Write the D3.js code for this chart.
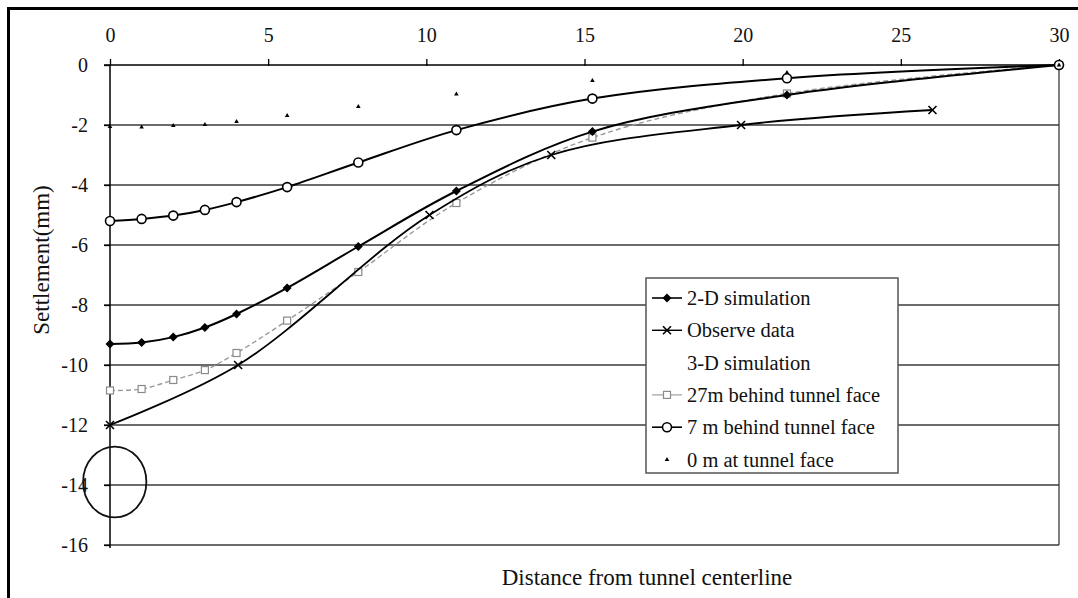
<!DOCTYPE html>
<html>
<head>
<meta charset="utf-8">
<script src="https://cdn.jsdelivr.net/npm/d3@7"></script>
<style>
  html, body { margin: 0; padding: 0; background: #fff; }
  svg { display: block; }
  text { font-family: "Liberation Serif", "Times New Roman", serif; fill: #111; }
</style>
</head>
<body>
<svg id="chart" width="1078" height="598"></svg>
<script>
// Surface settlement across the tunnel section (mm) vs distance from centreline (m)
const xTicks = [0, 5, 10, 15, 20, 25, 30];
const yTicks = [0, -2, -4, -6, -8, -10, -12, -14, -16];

const sim2dX = [0, 1, 2, 3, 4, 5.6, 7.85, 10.95, 15.25, 21.4, 30];
const sim2dY = [-9.3, -9.25, -9.07, -8.75, -8.3, -7.43, -6.05, -4.2, -2.22, -1.0, 0];

const observedX = [0, 4.05, 10.1, 13.95, 19.95, 26.0];
const observedY = [-12.0, -10.0, -5.0, -3.0, -2.0, -1.5];

const behind27X = [0, 1, 2, 3, 4, 5.6, 7.85, 10.95, 15.25, 21.4, 30];
const behind27Y = [-10.85, -10.8, -10.5, -10.17, -9.6, -8.52, -6.9, -4.6, -2.42, -0.95, 0];

const behind7X = [0, 1, 2, 3, 4, 5.6, 7.85, 10.95, 15.25, 21.4, 30];
const behind7Y = [-5.2, -5.13, -5.02, -4.83, -4.57, -4.07, -3.25, -2.17, -1.12, -0.44, 0];

const faceX = [0, 1, 2, 3, 4, 5.6, 7.85, 10.95, 15.25, 21.4, 30];
const faceY = [-2.05, -2.07, -2.02, -1.98, -1.88, -1.68, -1.38, -0.97, -0.52, -0.25, 0];

const legendLabels = ["2-D simulation", "Observe data", "3-D simulation",
                      "27m behind tunnel face", "7 m behind tunnel face", "0 m at tunnel face"];

// tunnel outline drawn beneath the centreline (centre and half-axes in chart units)
const tunnelCentre = [0.15, -13.9];
const tunnelHalfAxes = [1.0, 1.18];

const svg = d3.select("#chart");

const x = d3.scaleLinear().domain([0, 30]).range([110, 1059]);
const y = d3.scaleLinear().domain([0, -16]).range([65, 545]);

// outer frame (top and left edges)
svg.append("line").attr("x1", 7).attr("x2", 1078).attr("y1", 8.5).attr("y2", 8.5)
  .attr("stroke", "#000").attr("stroke-width", 3);
svg.append("line").attr("x1", 8.5).attr("x2", 8.5).attr("y1", 7).attr("y2", 598)
  .attr("stroke", "#000").attr("stroke-width", 3);

// horizontal gridlines
svg.append("g").selectAll("line").data(yTicks.filter(d => d !== 0)).join("line")
  .attr("x1", x(0) - 6).attr("x2", x(30))
  .attr("y1", d => y(d)).attr("y2", d => y(d))
  .attr("stroke", "#3a3a3a").attr("stroke-width", 1.3);

// right edge of plot area
svg.append("line").attr("x1", x(30)).attr("x2", x(30)).attr("y1", y(0)).attr("y2", y(-16))
  .attr("stroke", "#3a3a3a").attr("stroke-width", 1.3);

// x axis along the top (zero settlement line)
const xAxis = svg.append("g").attr("transform", `translate(0,${y(0)})`)
  .call(d3.axisTop(x).tickValues(xTicks).tickSize(6).tickPadding(17).tickFormat(d => String(d)));
xAxis.select(".domain").attr("stroke", "#000").attr("stroke-width", 1.5)
  .attr("d", `M${x(0) - 6},0H${x(30)}`);
xAxis.selectAll(".tick line").attr("stroke", "#000").attr("stroke-width", 1.3)
  .attr("y1", 1);
xAxis.selectAll(".tick text").attr("font-size", 20)
  .attr("font-family", "Liberation Serif, serif").attr("fill", "#111");

// y axis
const yAxis = svg.append("g").attr("transform", `translate(${x(0)},0)`)
  .call(d3.axisLeft(y).tickValues(yTicks).tickSize(6).tickPadding(16).tickFormat(d => String(d)));
yAxis.select(".domain").attr("stroke", "#000").attr("stroke-width", 1.5)
  .attr("d", `M0,${y(0)}V${y(-16) + 3}`);
yAxis.selectAll(".tick line").attr("stroke", "#000").attr("stroke-width", 1.3);
yAxis.selectAll(".tick text").attr("font-size", 20)
  .attr("font-family", "Liberation Serif, serif").attr("fill", "#111");

// tunnel
svg.append("ellipse")
  .attr("cx", x(tunnelCentre[0])).attr("cy", y(tunnelCentre[1]))
  .attr("rx", x(tunnelHalfAxes[0]) - x(0)).attr("ry", y(-tunnelHalfAxes[1]) - y(0))
  .attr("fill", "none").attr("stroke", "#111").attr("stroke-width", 1.8);

const zip = (xs, ys) => xs.map((v, i) => [v, ys[i]]);
const line = d3.line().x(d => x(d[0])).y(d => y(d[1])).curve(d3.curveCatmullRom.alpha(0.5));

const series = {
  sim2d:    { pts: zip(sim2dX, sim2dY),       stroke: "#000", width: 2,   dash: null,  marker: "diamond" },
  observed: { pts: zip(observedX, observedY), stroke: "#000", width: 1.8, dash: null,  marker: "cross" },
  behind27: { pts: zip(behind27X, behind27Y), stroke: "#9a9a9a", width: 1.4, dash: "5,3", marker: "square" },
  behind7:  { pts: zip(behind7X, behind7Y),   stroke: "#000", width: 2,   dash: null,  marker: "circle" },
  face:     { pts: zip(faceX, faceY),         stroke: null,   width: 0,   dash: null,  marker: "dot" }
};

function drawMarker(g, kind, cx, cy) {
  if (kind === "diamond") {
    g.append("path").attr("d", `M${cx},${cy - 4.5}L${cx + 4.5},${cy}L${cx},${cy + 4.5}L${cx - 4.5},${cy}Z`)
      .attr("fill", "#000");
  } else if (kind === "cross") {
    g.append("path").attr("d", `M${cx - 4},${cy - 4}L${cx + 4},${cy + 4}M${cx - 4},${cy + 4}L${cx + 4},${cy - 4}`)
      .attr("stroke", "#000").attr("stroke-width", 1.6).attr("fill", "none");
  } else if (kind === "square") {
    g.append("rect").attr("x", cx - 3.5).attr("y", cy - 3.5).attr("width", 7).attr("height", 7)
      .attr("fill", "#fff").attr("stroke", "#8a8a8a").attr("stroke-width", 1.2);
  } else if (kind === "circle") {
    g.append("circle").attr("cx", cx).attr("cy", cy).attr("r", 4.5)
      .attr("fill", "#fff").attr("stroke", "#000").attr("stroke-width", 1.6);
  } else if (kind === "dot") {
    g.append("path").attr("d", `M${cx},${cy - 2.5}L${cx + 2.3},${cy + 1.5}L${cx - 2.3},${cy + 1.5}Z`)
      .attr("fill", "#000");
  }
}

const plot = svg.append("g");
["behind27", "observed", "sim2d", "behind7", "face"].forEach(key => {
  const s = series[key];
  if (s.stroke) {
    plot.append("path").attr("d", line(s.pts))
      .attr("fill", "none").attr("stroke", s.stroke).attr("stroke-width", s.width)
      .attr("stroke-dasharray", s.dash);
  }
  const mg = plot.append("g");
  s.pts.forEach(p => drawMarker(mg, s.marker, x(p[0]), y(p[1])));
});

// legend
const legendKeys = ["sim2d", "observed", null, "behind27", "behind7", "face"];
const lg = svg.append("g").attr("transform", "translate(646,278)");
lg.append("rect").attr("width", 252).attr("height", 195)
  .attr("fill", "#fff").attr("stroke", "#555").attr("stroke-width", 1.5);
legendLabels.forEach((label, i) => {
  const cy = 20 + i * 32.3;
  const key = legendKeys[i];
  if (key) {
    const s = series[key];
    if (s.stroke) {
      lg.append("line").attr("x1", 6).attr("x2", 36).attr("y1", cy).attr("y2", cy)
        .attr("stroke", s.stroke).attr("stroke-width", s.width * 0.8);
    }
    drawMarker(lg, s.marker, 21, cy);
  }
  lg.append("text").attr("x", 41).attr("y", cy).attr("dy", "0.35em")
    .attr("font-size", 20.5).text(label);
});

// axis titles
svg.append("text").attr("transform", `translate(49,${y(-6.5)}) rotate(-90)`)
  .attr("text-anchor", "middle").attr("font-size", 23).text("Settlement(mm)");
svg.append("text").attr("x", 647).attr("y", 585)
  .attr("text-anchor", "middle").attr("font-size", 23).text("Distance from tunnel centerline");
</script>
</body>
</html>
